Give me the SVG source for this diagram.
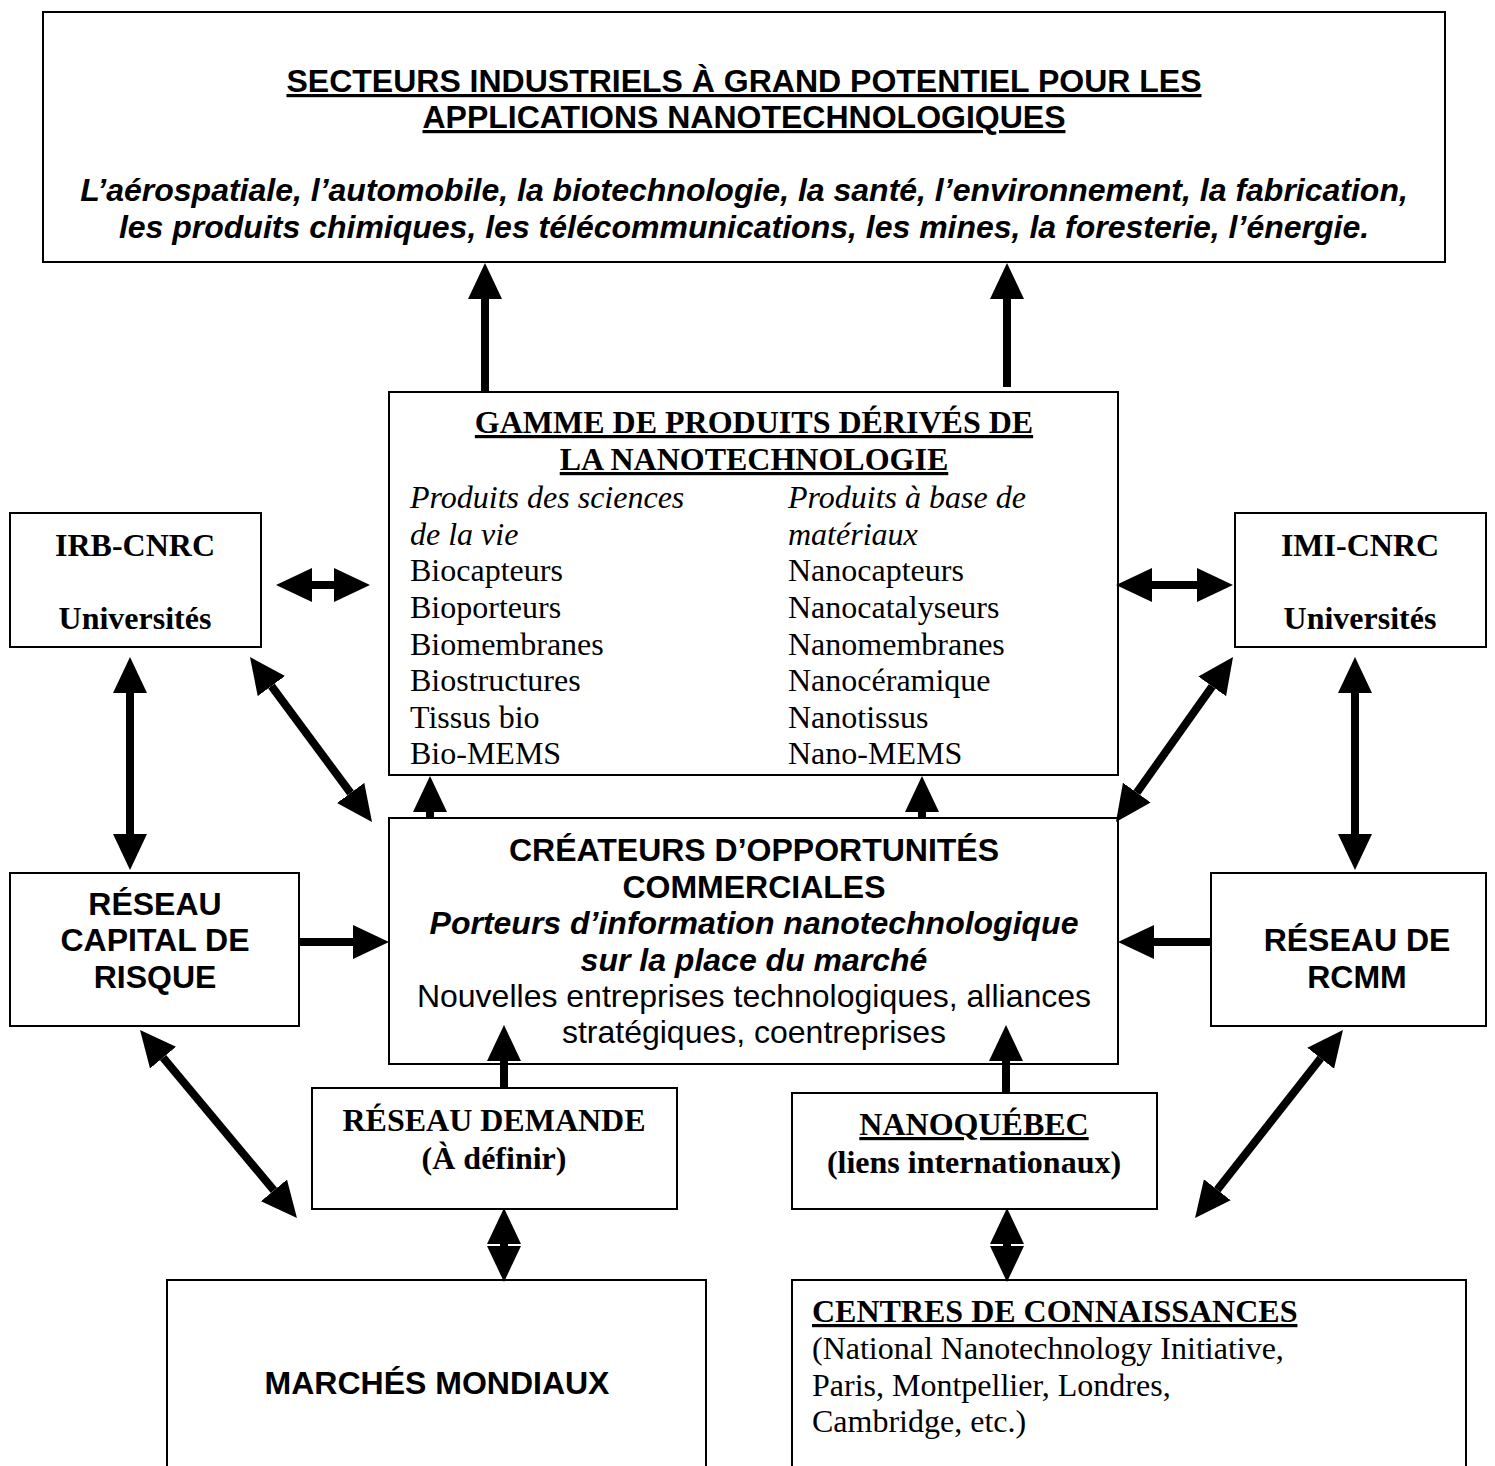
<svg xmlns="http://www.w3.org/2000/svg" width="1495" height="1466" viewBox="0 0 1495 1466">
<style>
.box{fill:#fff;stroke:#000;stroke-width:2}
.sans{font-family:"Liberation Sans",Arial,sans-serif;font-size:32px;fill:#000}
.serif{font-family:"Liberation Serif","Times New Roman",serif;font-size:32px;fill:#000}
.b{font-weight:bold}
.i{font-style:italic}
.u{text-decoration:underline}
.c{text-anchor:middle}
.arr{stroke:#000;stroke-width:8;fill:none;marker-end:url(#head)}
.dbl{stroke:#000;stroke-width:8;fill:none;marker-start:url(#head);marker-end:url(#head)}
</style>
<defs>
<marker id="head" markerUnits="userSpaceOnUse" markerWidth="36" markerHeight="36" viewBox="0 0 36 36" refX="0" refY="18" orient="auto-start-reverse">
<path d="M0,1 L36,18 L0,35 Z" fill="#000"/>
</marker>
</defs>
<rect width="1495" height="1466" fill="#fff"/>

<g id="secteurs">
<rect class="box" x="43" y="12" width="1402" height="250"/>
<text class="sans b u c" x="744" y="92">SECTEURS INDUSTRIELS À GRAND POTENTIEL POUR LES</text>
<text class="sans b u c" x="744" y="128">APPLICATIONS NANOTECHNOLOGIQUES</text>
<text class="sans b i c" x="744" y="201">L’aérospatiale, l’automobile, la biotechnologie, la santé, l’environnement, la fabrication,</text>
<text class="sans b i c" x="744" y="238">les produits chimiques, les télécommunications, les mines, la foresterie, l’énergie.</text>
</g>

<g id="gamme">
<rect class="box" x="389" y="392" width="729" height="383"/>
<text class="serif b u c" x="754" y="433">GAMME DE PRODUITS DÉRIVÉS DE</text>
<text class="serif b u c" x="754" y="470">LA NANOTECHNOLOGIE</text>
<text class="serif i" x="410" y="508">Produits des sciences</text>
<text class="serif i" x="410" y="545">de la vie</text>
<text class="serif" x="410" y="581">Biocapteurs</text>
<text class="serif" x="410" y="618">Bioporteurs</text>
<text class="serif" x="410" y="655">Biomembranes</text>
<text class="serif" x="410" y="691">Biostructures</text>
<text class="serif" x="410" y="728">Tissus bio</text>
<text class="serif" x="410" y="764">Bio-MEMS</text>
<text class="serif i" x="788" y="508">Produits à base de</text>
<text class="serif i" x="788" y="545">matériaux</text>
<text class="serif" x="788" y="581">Nanocapteurs</text>
<text class="serif" x="788" y="618">Nanocatalyseurs</text>
<text class="serif" x="788" y="655">Nanomembranes</text>
<text class="serif" x="788" y="691">Nanocéramique</text>
<text class="serif" x="788" y="728">Nanotissus</text>
<text class="serif" x="788" y="764">Nano-MEMS</text>
</g>

<g id="irb">
<rect class="box" x="10" y="513" width="251" height="134"/>
<text class="serif b c" x="135" y="556">IRB-CNRC</text>
<text class="serif b c" x="135" y="629">Universités</text>
</g>

<g id="imi">
<rect class="box" x="1235" y="513" width="251" height="134"/>
<text class="serif b c" x="1360" y="556">IMI-CNRC</text>
<text class="serif b c" x="1360" y="629">Universités</text>
</g>

<g id="createurs">
<rect class="box" x="389" y="818" width="729" height="246"/>
<text class="sans b c" x="754" y="861">CRÉATEURS D’OPPORTUNITÉS</text>
<text class="sans b c" x="754" y="898">COMMERCIALES</text>
<text class="sans b i c" x="754" y="934">Porteurs d’information nanotechnologique</text>
<text class="sans b i c" x="754" y="971">sur la place du marché</text>
<text class="sans c" x="754" y="1007">Nouvelles entreprises technologiques, alliances</text>
<text class="sans c" x="754" y="1043">stratégiques, coentreprises</text>
</g>

<g id="capital">
<rect class="box" x="10" y="873" width="289" height="153"/>
<text class="sans b c" x="155" y="915">RÉSEAU</text>
<text class="sans b c" x="155" y="951">CAPITAL DE</text>
<text class="sans b c" x="155" y="988">RISQUE</text>
</g>

<g id="rcmm">
<rect class="box" x="1211" y="873" width="275" height="153"/>
<text class="sans b c" x="1357" y="951">RÉSEAU DE</text>
<text class="sans b c" x="1357" y="988">RCMM</text>
</g>

<g id="demande">
<rect class="box" x="312" y="1088" width="365" height="121"/>
<text class="serif b c" x="494" y="1131">RÉSEAU DEMANDE</text>
<text class="serif b c" x="494" y="1169">(À définir)</text>
</g>

<g id="nanoquebec">
<rect class="box" x="792" y="1093" width="365" height="116"/>
<text class="serif b u c" x="974" y="1135">NANOQUÉBEC</text>
<text class="serif b c" x="974" y="1173">(liens internationaux)</text>
</g>

<g id="marches">
<rect class="box" x="167" y="1280" width="539" height="200"/>
<text class="sans b c" x="437" y="1394">MARCHÉS MONDIAUX</text>
</g>

<g id="centres">
<rect class="box" x="792" y="1280" width="674" height="200"/>
<text class="serif b u" x="812" y="1322">CENTRES DE CONNAISSANCES</text>
<text class="serif" x="812" y="1359">(National Nanotechnology Initiative,</text>
<text class="serif" x="812" y="1396">Paris, Montpellier, Londres,</text>
<text class="serif" x="812" y="1432">Cambridge, etc.)</text>
</g>

<g id="connectors">
<line class="arr" x1="485" y1="391" x2="485" y2="299"/>
<line class="arr" x1="1007" y1="387" x2="1007" y2="299"/>
<line class="dbl" x1="312" y1="585" x2="334" y2="585"/>
<line class="dbl" x1="1152" y1="585" x2="1197" y2="585"/>
<line class="dbl" x1="130" y1="693" x2="130" y2="834"/>
<line class="dbl" x1="1355" y1="693" x2="1355" y2="834"/>
<line class="dbl" x1="271.4" y1="686" x2="350.6" y2="793"/>
<line class="dbl" x1="1212.2" y1="686.4" x2="1136.8" y2="792.6"/>
<line class="arr" x1="300" y1="942" x2="353" y2="942"/>
<line class="arr" x1="1211" y1="942" x2="1154" y2="942"/>
<line class="arr" x1="430" y1="819" x2="430" y2="812"/>
<line class="arr" x1="922" y1="819" x2="922" y2="812"/>
<line class="arr" x1="504" y1="1088" x2="504" y2="1061"/>
<line class="arr" x1="1006" y1="1092" x2="1006" y2="1061"/>
<line class="dbl" x1="163.1" y1="1057.6" x2="273.9" y2="1190.4"/>
<line class="dbl" x1="1320.7" y1="1058.3" x2="1217.3" y2="1189.7"/>
<line class="dbl" x1="504" y1="1244" x2="504" y2="1246"/>
<line class="dbl" x1="1007" y1="1244" x2="1007" y2="1246"/>
</g>
</svg>
